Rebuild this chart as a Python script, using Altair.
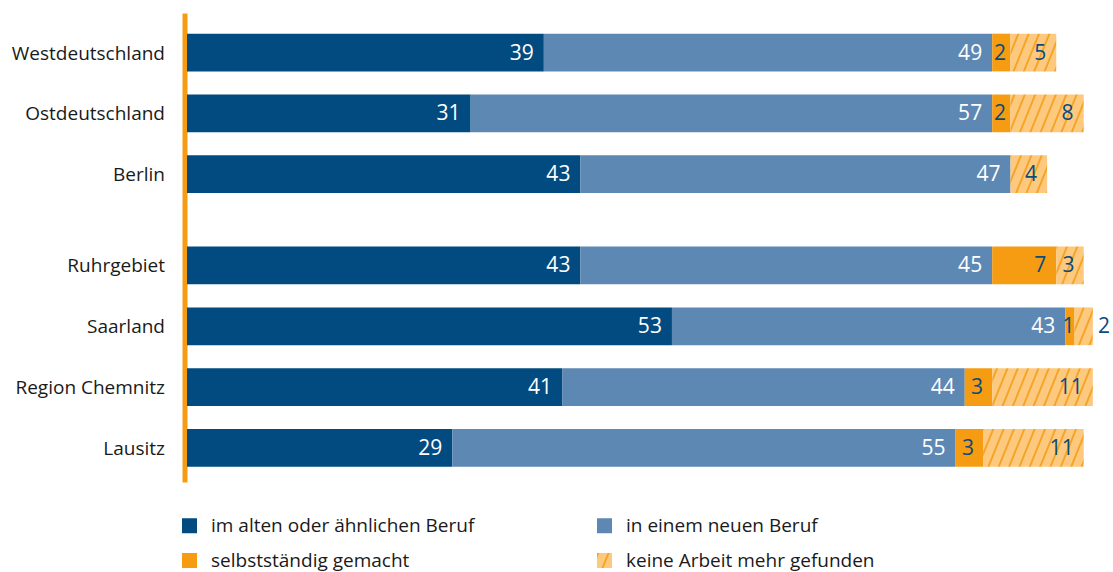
import altair as alt
import pandas as pd
import jinja2
from altair.utils import html as alt_html

# ---------------- data ----------------
categories = ["Westdeutschland", "Ostdeutschland", "Berlin",
              "Ruhrgebiet", "Saarland", "Region Chemnitz", "Lausitz"]
group = [1, 1, 1, 2, 2, 2, 2]
alt_beruf = [39, 31, 43, 43, 53, 41, 29]
neuer_beruf = [49, 57, 47, 45, 43, 44, 55]
selbststaendig = [2, 2, 0, 7, 1, 3, 3]
keine_arbeit = [5, 8, 4, 3, 2, 11, 11]
series_names = ["im alten oder ähnlichen Beruf", "in einem neuen Beruf",
                "selbstständig gemacht", "keine Arbeit mehr gefunden"]

# ---------------- styles ----------------
DARK = "#024B80"
LIGHT = "#5D88B3"
ORANGE = "#F59C12"
HATCH_BG = "#FCC97F"
NAVY = "#0B4A7D"
TXT = "#1a1a1a"
FONT = "Open Sans"
bar_colors = [DARK, LIGHT, ORANGE, "url(#hatch) " + HATCH_BG]
text_colors = ["white", "white", NAVY, NAVY]

rows, cat_rows = [], []
for i, c in enumerate(categories):
    pos = i + 0.5 * (group[i] - 1)
    cat_rows.append({"cat": c, "pos": pos})
    vals = [alt_beruf[i], neuer_beruf[i], selbststaendig[i], keine_arbeit[i]]
    start = 0
    for k, (s, v) in enumerate(zip(series_names, vals)):
        end = start + v
        if v > 0:
            pad = min(1.1, (v - 1) * 0.5)
            rows.append(dict(cat=c, series=s, order=k, start=start, end=end,
                             value=v, pos=pos, ylo=pos - 0.31, yhi=pos + 0.31,
                             lx=end - pad, ox=end + 0.55,
                             tcolor=text_colors[k],
                             outside=bool(k == 3 and v <= 2)))
        start = end

df = pd.DataFrame(rows)
cat_df = pd.DataFrame(cat_rows)

PLOT_H = 469
PLOT_W = 915
ysc = alt.Scale(domain=[-0.65, 7.06], reverse=True, nice=False, zero=False)
xsc = alt.Scale(domain=[0, 100], nice=False)

bars = alt.Chart(df).mark_bar().encode(
    x=alt.X("start:Q", scale=xsc, axis=None),
    x2="end:Q",
    y=alt.Y("ylo:Q", scale=ysc,
            axis=alt.Axis(labels=False, ticks=False, grid=False, title=None,
                          domainColor=ORANGE, domainWidth=5, offset=2.5)),
    y2="yhi:Q",
    color=alt.Color("series:N",
                    scale=alt.Scale(domain=series_names, range=bar_colors),
                    legend=alt.Legend(title=None, orient="none", legendX=-7, legendY=503,
                                      direction="horizontal",
                                      columns=2, columnPadding=120, rowPadding=15,
                                      symbolType="square", symbolSize=225,
                                      symbolStrokeWidth=0, symbolOpacity=1,
                                      labelFont=FONT, labelFontSize=19,
                                      labelColor=TXT, labelOffset=12,
                                      labelLimit=500)),
    order=alt.Order("order:Q"),
)

labels_in = alt.Chart(df).transform_filter("!datum.outside").mark_text(
    align="right", baseline="middle", fontSize=21, font=FONT, dy=1
).encode(
    x=alt.X("lx:Q", scale=xsc),
    y=alt.Y("pos:Q", scale=ysc),
    text="value:Q",
    color=alt.Color("tcolor:N", scale=None),
)

labels_out = alt.Chart(df).transform_filter("datum.outside").mark_text(
    align="left", baseline="middle", fontSize=21, font=FONT, dy=1
).encode(
    x=alt.X("ox:Q", scale=xsc),
    y=alt.Y("pos:Q", scale=ysc),
    text="value:Q",
    color=alt.Color("tcolor:N", scale=None),
)

cat_labels = alt.Chart(cat_df).mark_text(
    align="right", baseline="middle", fontSize=19, font=FONT, color=TXT, dy=1
).encode(
    x=alt.value(-22),
    y=alt.Y("pos:Q", scale=ysc),
    text="cat:N",
)

chart = alt.layer(bars, labels_in, labels_out, cat_labels).properties(
    width=PLOT_W, height=PLOT_H,
    autosize=alt.AutoSizeParams(type="none"),
    padding={"left": 179, "top": 5, "right": 11, "bottom": 90},
).configure_view(strokeWidth=0)

# hatch pattern definition injected into the page
DEFS = (
    '<svg width="0" height="0" style="position:absolute;left:0;top:0">'
    '<defs><pattern id="hatch" patternUnits="userSpaceOnUse" width="9.6" height="9.6" '
    'patternTransform="rotate(22)">'
    '<rect width="9.6" height="9.6" fill="' + HATCH_BG + '"/>'
    '<line x1="1" y1="0" x2="1" y2="9.6" stroke="' + ORANGE + '" stroke-width="1.6"/>'
    '</pattern></defs></svg>'
)
STYLE = "<style>body { margin: 8px 0 0 8px; }</style>"

_base_tmpl = getattr(alt_html, "TEMPLATES", {}).get("standard", None) or alt_html.HTML_TEMPLATE


class _HatchTemplate(jinja2.Template):
    def render(self, *args, **kwargs):
        page = _base_tmpl.render(*args, **kwargs)
        if "</head>" in page:
            page = page.replace("</head>", STYLE + "</head>", 1)
        else:
            page = STYLE + page
        if "<body>" in page:
            page = page.replace("<body>", "<body>" + DEFS, 1)
        else:
            page = DEFS + page
        return page


try:
    chart.save("out.html", embed_options={"renderer": "svg", "actions": False},
               template=_HatchTemplate(""))
except Exception:
    chart.save("out.html", embed_options={"renderer": "svg", "actions": False})
